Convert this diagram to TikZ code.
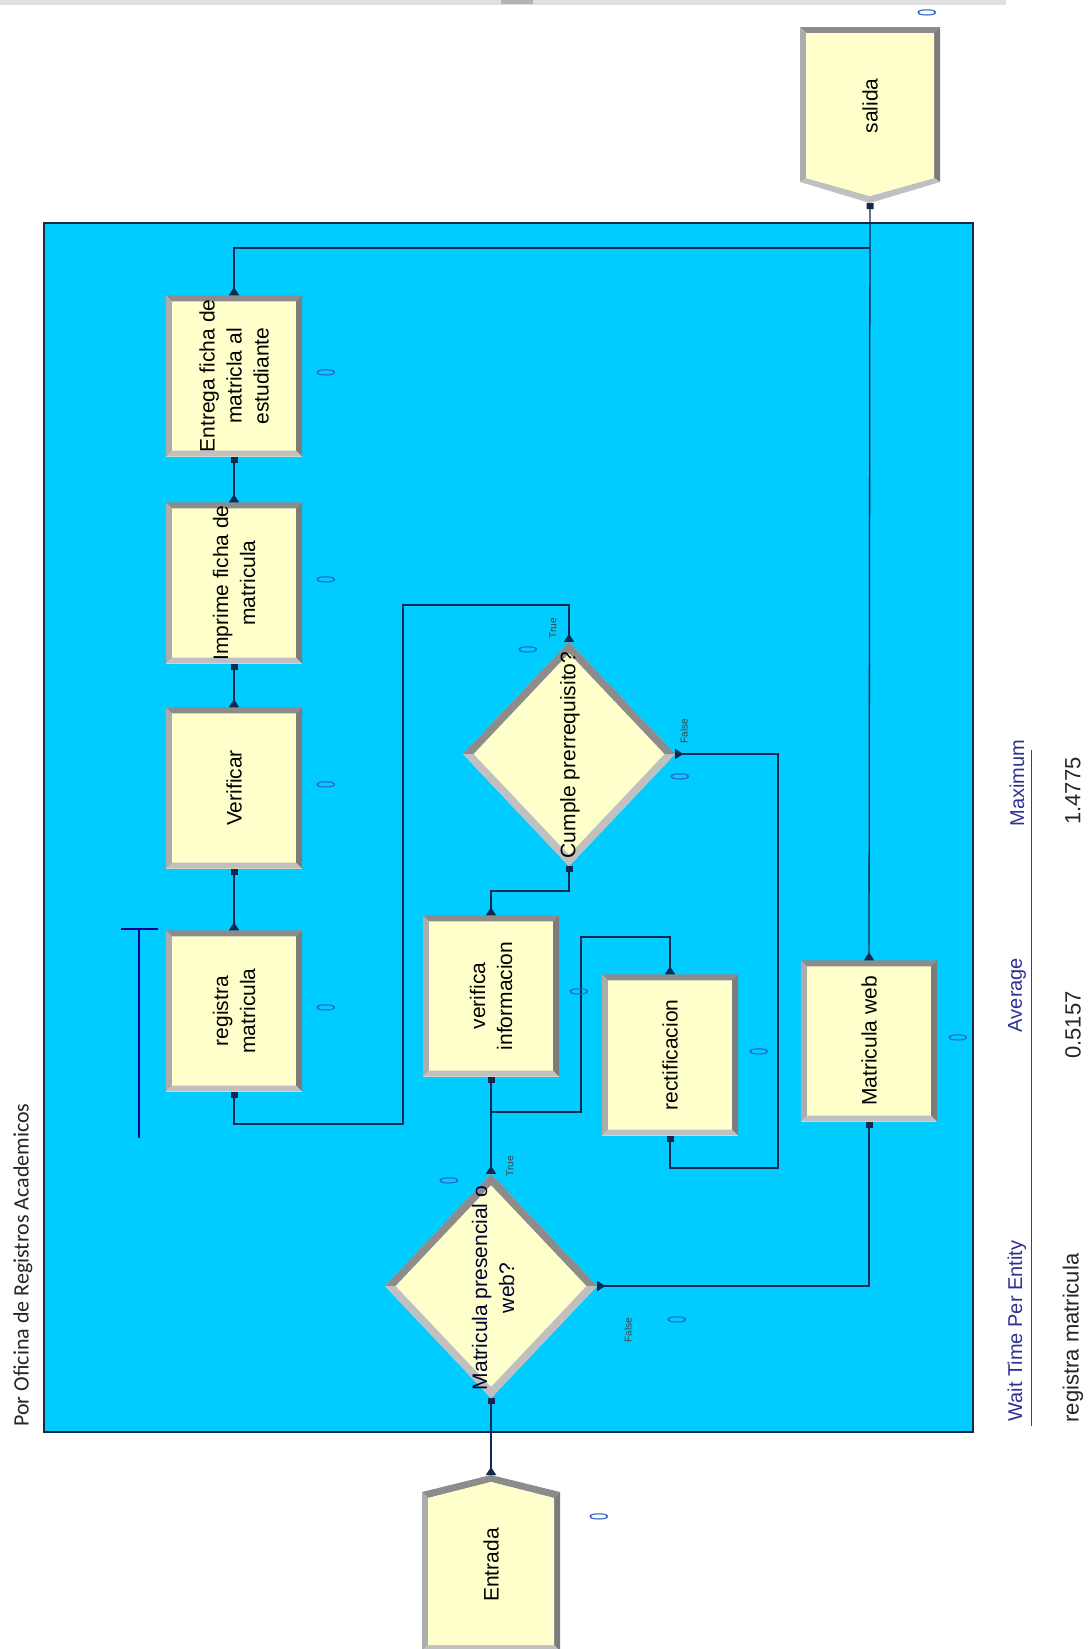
\documentclass[tikz,border=0pt]{standalone}
\usepackage{fontspec}
\setmainfont{Liberation Sans}
\newfontfamily\calfont{Carlito}
\usetikzlibrary{shapes.geometric,arrows.meta,calc}

\definecolor{bgblue}{HTML}{00CCFF}
\definecolor{modfill}{HTML}{FFFFCC}
\definecolor{bvdark}{HTML}{8C8C8C}
\definecolor{bvdarker}{HTML}{7C7C7C}
\definecolor{bvlight}{HTML}{ACACAC}
\definecolor{bvlighter}{HTML}{C0C0C0}
\definecolor{wire}{HTML}{13284F}
\definecolor{cnt}{HTML}{2A62C8}
\definecolor{hdr}{HTML}{2E3192}
\definecolor{tablerule}{HTML}{5C3A3A}
\definecolor{frame}{HTML}{1B2A44}

% bevelled border of a process module (light on the left and bottom, dark on top and right)
\newcommand\bevelrect[1]{%
  \fill[bvdark] (#1.north west) -- (#1.north east) -- ($(#1.north east)+(-6pt,-6pt)$) -- ($(#1.north west)+(6pt,-6pt)$) -- cycle;
  \fill[bvdarker] (#1.north east) -- (#1.south east) -- ($(#1.south east)+(-6pt,6pt)$) -- ($(#1.north east)+(-6pt,-6pt)$) -- cycle;
  \fill[bvlight] (#1.north west) -- ($(#1.north west)+(6pt,-6pt)$) -- ($(#1.south west)+(6pt,6pt)$) -- (#1.south west) -- cycle;
  \fill[bvlighter] (#1.south west) -- ($(#1.south west)+(6pt,6pt)$) -- ($(#1.south east)+(-6pt,6pt)$) -- (#1.south east) -- cycle;
}
% bevelled border of a decision module
\newcommand\beveldiamond[1]{%
  \fill[bvdark] (#1.west) -- (#1.north) -- (#1.east) -- ($(#1.center)!0.9!(#1.east)$) -- ($(#1.center)!0.9!(#1.north)$) -- ($(#1.center)!0.9!(#1.west)$) -- cycle;
  \fill[bvlighter] (#1.west) -- (#1.south) -- (#1.east) -- ($(#1.center)!0.9!(#1.east)$) -- ($(#1.center)!0.9!(#1.south)$) -- ($(#1.center)!0.9!(#1.west)$) -- cycle;
}

\begin{document}
\begin{tikzpicture}[x=1pt,y=-1pt,
  modbody/.style={rectangle, fill=modfill, minimum width=136pt, minimum height=161pt, inner sep=0pt},
  modtext/.style={rotate=90, align=center, font=\fontsize{21}{27}\selectfont, inner sep=0pt},
  decbody/.style={diamond, fill=modfill, minimum width=212pt, minimum height=224pt, inner sep=0pt},
  conn/.style={draw=wire, line width=1.3pt, {Triangle[reversed,length=8pt,width=10pt]}-{Square[length=6pt,width=7pt]}},
  connout/.style={draw=wire, line width=1.3pt, {Triangle[reversed,length=8pt,width=10pt]}-},
  count/.style={rotate=90, xscale=0.5, text=cnt, font=\fontsize{26}{26}\selectfont, inner sep=0pt},
  branch/.style={rotate=90, text=black!75, font=\fontsize{10}{10}\selectfont, inner sep=0pt},
  hdrtext/.style={rotate=90, text=hdr, font=\fontsize{20}{20}\selectfont, inner sep=0pt},
  valtext/.style={rotate=90, text=black!85, font=\fontsize{22}{22}\selectfont, inner sep=0pt}
]
\useasboundingbox (0,0) rectangle (1092,1649);
\fill[white] (0,0) rectangle (1092,1649);

% window strip along the top edge
\fill[black!12] (0,0) rectangle (1006,5);
\fill[black!30] (501,0) rectangle (533,4);

% submodel area
\filldraw[fill=bgblue, draw=frame, line width=1.2pt] (44,223) rectangle (973,1432);
\node[rotate=90, text=black!85, font=\calfont\fontsize{22}{22}\selectfont, inner sep=0pt] (area) at (23,1265) {Por Oficina de Registros Academicos};

% ---- dispose module: salida ----
\fill[bvdark] (800,27) -- (940,27) -- (934,33) -- (806,33) -- cycle;
\fill[bvdarker] (940,27) -- (940,182) -- (934,178) -- (934,33) -- cycle;
\fill[bvlight] (800,27) -- (806,33) -- (806,178) -- (800,182) -- cycle;
\fill[bvlighter] (800,182) -- (870,203) -- (940,182) -- (934,178) -- (870,196) -- (806,178) -- cycle;
\fill[modfill] (806,33) -- (934,33) -- (934,178) -- (870,196) -- (806,178) -- cycle;
\node[modtext] (salida) at (870,106) {salida};
\coordinate (salida-in) at (870,203);

% ---- create module: Entrada ----
\fill[bvdark] (422,1492) -- (491,1475) -- (560,1492) -- (554,1498) -- (491,1482) -- (428,1498) -- cycle;
\fill[bvdarker] (560,1492) -- (560,1651) -- (554,1645) -- (554,1498) -- cycle;
\fill[bvlight] (422,1492) -- (428,1498) -- (428,1645) -- (422,1651) -- cycle;
\fill[bvlighter] (422,1651) -- (428,1645) -- (554,1645) -- (560,1651) -- cycle;
\fill[modfill] (428,1498) -- (491,1482) -- (554,1498) -- (554,1645) -- (428,1645) -- cycle;
\node[modtext] (entrada) at (491,1565) {Entrada};
\coordinate (entrada-out) at (491,1475);

% ---- process modules ----
\node[modbody] (entrega) at (234,376) {};
\node[modbody] (imprime) at (234,583) {};
\node[modbody] (verificar) at (234,788) {};
\node[modbody] (registra) at (234,1011) {};
\node[modbody] (verinfo) at (491,996) {};
\node[modbody] (rectif) at (670,1055) {};
\node[modbody] (web) at (869,1041) {};
\foreach \m in {entrega,imprime,verificar,registra,verinfo,rectif,web} {\bevelrect{\m}}
\node[modtext] (entrega-t) at (entrega) {Entrega ficha de\\matricla al\\estudiante};
\node[modtext] (imprime-t) at (imprime) {Imprime ficha de\\matricula};
\node[modtext] (verificar-t) at (verificar) {Verificar};
\node[modtext] (registra-t) at (registra) {registra\\matricula};
\node[modtext] (verinfo-t) at (verinfo) {verifica\\informacion};
\node[modtext] (rectif-t) at (rectif) {rectificacion};
\node[modtext] (web-t) at (web) {Matricula web};

% ---- decision modules ----
\node[decbody] (dec1) at (491,1286) {};
\node[decbody] (dec2) at (569,754) {};
\beveldiamond{dec1}
\beveldiamond{dec2}
\node[modtext, text=black!80!blue] (dec1-t) at (493,1288) {Matricula presencial o\\web?};
\node[modtext] (dec2-t) at (570,755) {Cumple prerrequisito?};

% queue of registra matricula
\draw[draw=blue!60!black, line width=1.3pt] (139,929) -- (139,1138);
\draw[draw=blue!60!black, line width=1.3pt] (121,929) -- (158,929);

% ---- connectors ----
\draw[conn] (entrada-out) -- (dec1.south);
\draw[conn] (dec1.north) -- (verinfo.south);
\draw[conn] (dec1.east) -| (web.south);
\draw[connout] (rectif.north) |- (581,937) -- (581,1112) -- (491,1112);
\draw[conn] (verinfo.north) -- (491,891) -- (569,891) -- (dec2.south);
\draw[conn] (dec2.north) -- (569,605) -- (403,605) -- (403,1124) -- (234,1124) -- (registra.south);
\draw[conn] (dec2.east) -- (778,754) -- (778,1168) -- (670,1168) -- (rectif.south);
\draw[conn] (registra.north) -- (verificar.south);
\draw[conn] (verificar.north) -- (imprime.south);
\draw[conn] (imprime.north) -- (entrega.south);
\coordinate (merge) at (870,248);
\draw[connout] (entrega.north) |- (merge);
\draw[conn] (web.north) -- (salida-in);

% branch labels
\node[branch] (dec1-true) at (510,1166) {True};
\node[branch] (dec1-false) at (628,1330) {False};
\node[branch] (dec2-true) at (553,628) {True};
\node[branch] (dec2-false) at (684,731) {False};

% counters
\node[count] (n-salida) at (927,13) {0};
\node[count] (n-entrega) at (326,373) {0};
\node[count] (n-imprime) at (326,580) {0};
\node[count] (n-verificar) at (326,785) {0};
\node[count] (n-registra) at (326,1008) {0};
\node[count] (n-verinfo) at (579,992) {0};
\node[count] (n-rectif) at (759,1052) {0};
\node[count] (n-web) at (958,1038) {0};
\node[count] (n-dec1) at (449,1181) {0};
\node[count] (n-dec1f) at (677,1320) {0};
\node[count] (n-dec2) at (528,650) {0};
\node[count] (n-dec2f) at (680,777) {0};
\node[count] (n-entrada) at (599,1517) {0};

% statistics table
\draw[tablerule, line width=1pt] (1031,750) -- (1031,1426);
\node[hdrtext] (h-wait) at (1017,1331) {Wait Time Per Entity};
\node[hdrtext] (h-avg) at (1017,995) {Average};
\node[hdrtext] (h-max) at (1017,783) {Maximum};
\node[valtext] (v-name) at (1073,1338) {registra matricula};
\node[valtext] (v-avg) at (1073,1025) {0.5157};
\node[valtext] (v-max) at (1073,791) {1.4775};
\end{tikzpicture}
\end{document}
